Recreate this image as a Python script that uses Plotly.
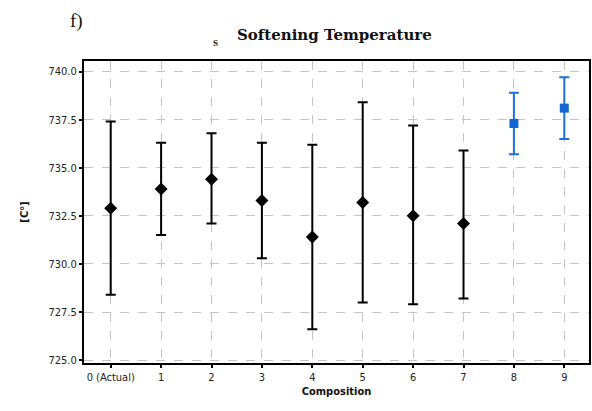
import plotly.graph_objects as go

categories = [0, 1, 2, 3, 4, 5, 6, 7, 8, 9]
tick_labels = ["0 (Actual)", "1", "2", "3", "4", "5", "6", "7", "8", "9"]

black_x = [0, 1, 2, 3, 4, 5, 6, 7]
black_mean = [732.9, 733.9, 734.4, 733.3, 731.4, 733.2, 732.5, 732.1]
black_upper = [737.4, 736.3, 736.8, 736.3, 736.2, 738.4, 737.2, 735.9]
black_lower = [728.4, 731.5, 732.1, 730.3, 726.6, 728.0, 727.9, 728.2]

blue_x = [8, 9]
blue_mean = [737.3, 738.1]
blue_upper = [738.9, 739.7]
blue_lower = [735.7, 736.5]

fig = go.Figure()

fig.add_trace(go.Scatter(
    x=black_x, y=black_mean, mode="markers",
    marker=dict(symbol="diamond", size=10, color="black"),
    error_y=dict(type="data", symmetric=False,
                 array=[u - m for u, m in zip(black_upper, black_mean)],
                 arrayminus=[m - l for m, l in zip(black_mean, black_lower)],
                 color="black", thickness=2, width=5),
    showlegend=False,
))
fig.add_trace(go.Scatter(
    x=blue_x, y=blue_mean, mode="markers",
    marker=dict(symbol="square", size=9, color="#1266d4"),
    error_y=dict(type="data", symmetric=False,
                 array=[u - m for u, m in zip(blue_upper, blue_mean)],
                 arrayminus=[m - l for m, l in zip(blue_mean, blue_lower)],
                 color="#1a72d8", thickness=2, width=5),
    showlegend=False,
))

tick_font = dict(family="DejaVu Sans Condensed, DejaVu Sans", size=11, color="#222")
axis_common = dict(
    showline=True, linecolor="black", linewidth=2, mirror=True,
    showgrid=True, gridcolor="#c4c4c4", griddash="dash", gridwidth=1,
    ticks="outside", ticklen=3, tickcolor="black", tickwidth=1.5,
    zeroline=False, tickfont=tick_font,
)

fig.update_xaxes(
    range=[-0.53, 9.49], tickmode="array", tickvals=categories, ticktext=tick_labels,
    title=dict(text="<b>Composition</b>", font=dict(family="DejaVu Sans Condensed, DejaVu Sans", size=11, color="#111"), standoff=4),
    **axis_common,
)
fig.update_yaxes(
    range=[724.85, 740.55], tickmode="linear", tick0=725, dtick=2.5, tickformat=".1f",
    title=dict(text="<b>[C°]</b>", font=dict(family="DejaVu Sans Condensed, DejaVu Sans", size=11, color="#111"), standoff=18),
    **axis_common,
)

W, H = 592, 411
ML, MR, MT, MB = 84, 1, 61, 48
pw, ph = W - ML - MR, H - MT - MB


def px_to_paper(px, py):
    return (px - ML) / pw, (H - MB - py) / ph


fx, fy = px_to_paper(76, 21)
sx, sy = px_to_paper(216, 41)
tx, ty = px_to_paper(335, 35)

fig.update_layout(
    width=W, height=H,
    margin=dict(l=ML, r=MR, t=MT, b=MB),
    paper_bgcolor="white", plot_bgcolor="white",
    annotations=[
        dict(text="<b>Softening Temperature</b>", x=tx, y=ty, xref="paper", yref="paper",
             showarrow=False, xanchor="center", yanchor="middle",
             font=dict(family="DejaVu Serif", size=15, color="#111")),
        dict(text="f)", x=fx, y=fy, xref="paper", yref="paper", showarrow=False,
             xanchor="center", yanchor="middle",
             font=dict(family="Liberation Serif", size=19, color="#111")),
        dict(text="<b>s</b>", x=sx, y=sy, xref="paper", yref="paper", showarrow=False,
             xanchor="center", yanchor="middle",
             font=dict(family="Liberation Serif", size=13, color="#5a3c18")),
    ],
)

fig.write_html("out.html")
